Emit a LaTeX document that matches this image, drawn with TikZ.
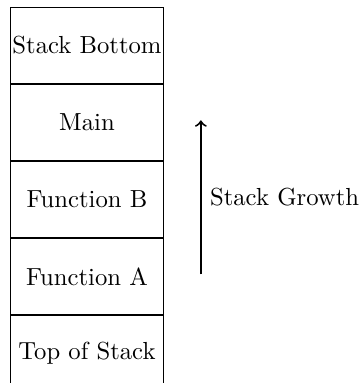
\documentclass[tikz,border=0pt]{standalone}
\usepackage{tikz}
\usetikzlibrary{positioning,calc}
\tikzstyle{frame}=[draw, minimum width=2.18cm, minimum height=1.082cm, inner sep=0pt]

\begin{document}
\begin{tikzpicture}
\useasboundingbox (-0.142,0.1) rectangle (4.984,-5.355);
\node[frame, anchor=north west] (bottom) at (0,0) {Stack Bottom};
\node[frame, below=0pt of bottom] (main) {Main};
\node[frame, below=0pt of main] (fb) {Function B};
\node[frame, below=0pt of fb] (fa) {Function A};
\node[frame, below=0pt of fa] (top) {Top of Stack};
\coordinate (g0) at ($(fa.east)+(0.525,0.03)$);
\coordinate (g1) at ($(main.east)+(0.525,0.03)$);
\draw[->, thick] (g0) -- node[right] {Stack Growth} (g1);
\end{tikzpicture}
\end{document}
